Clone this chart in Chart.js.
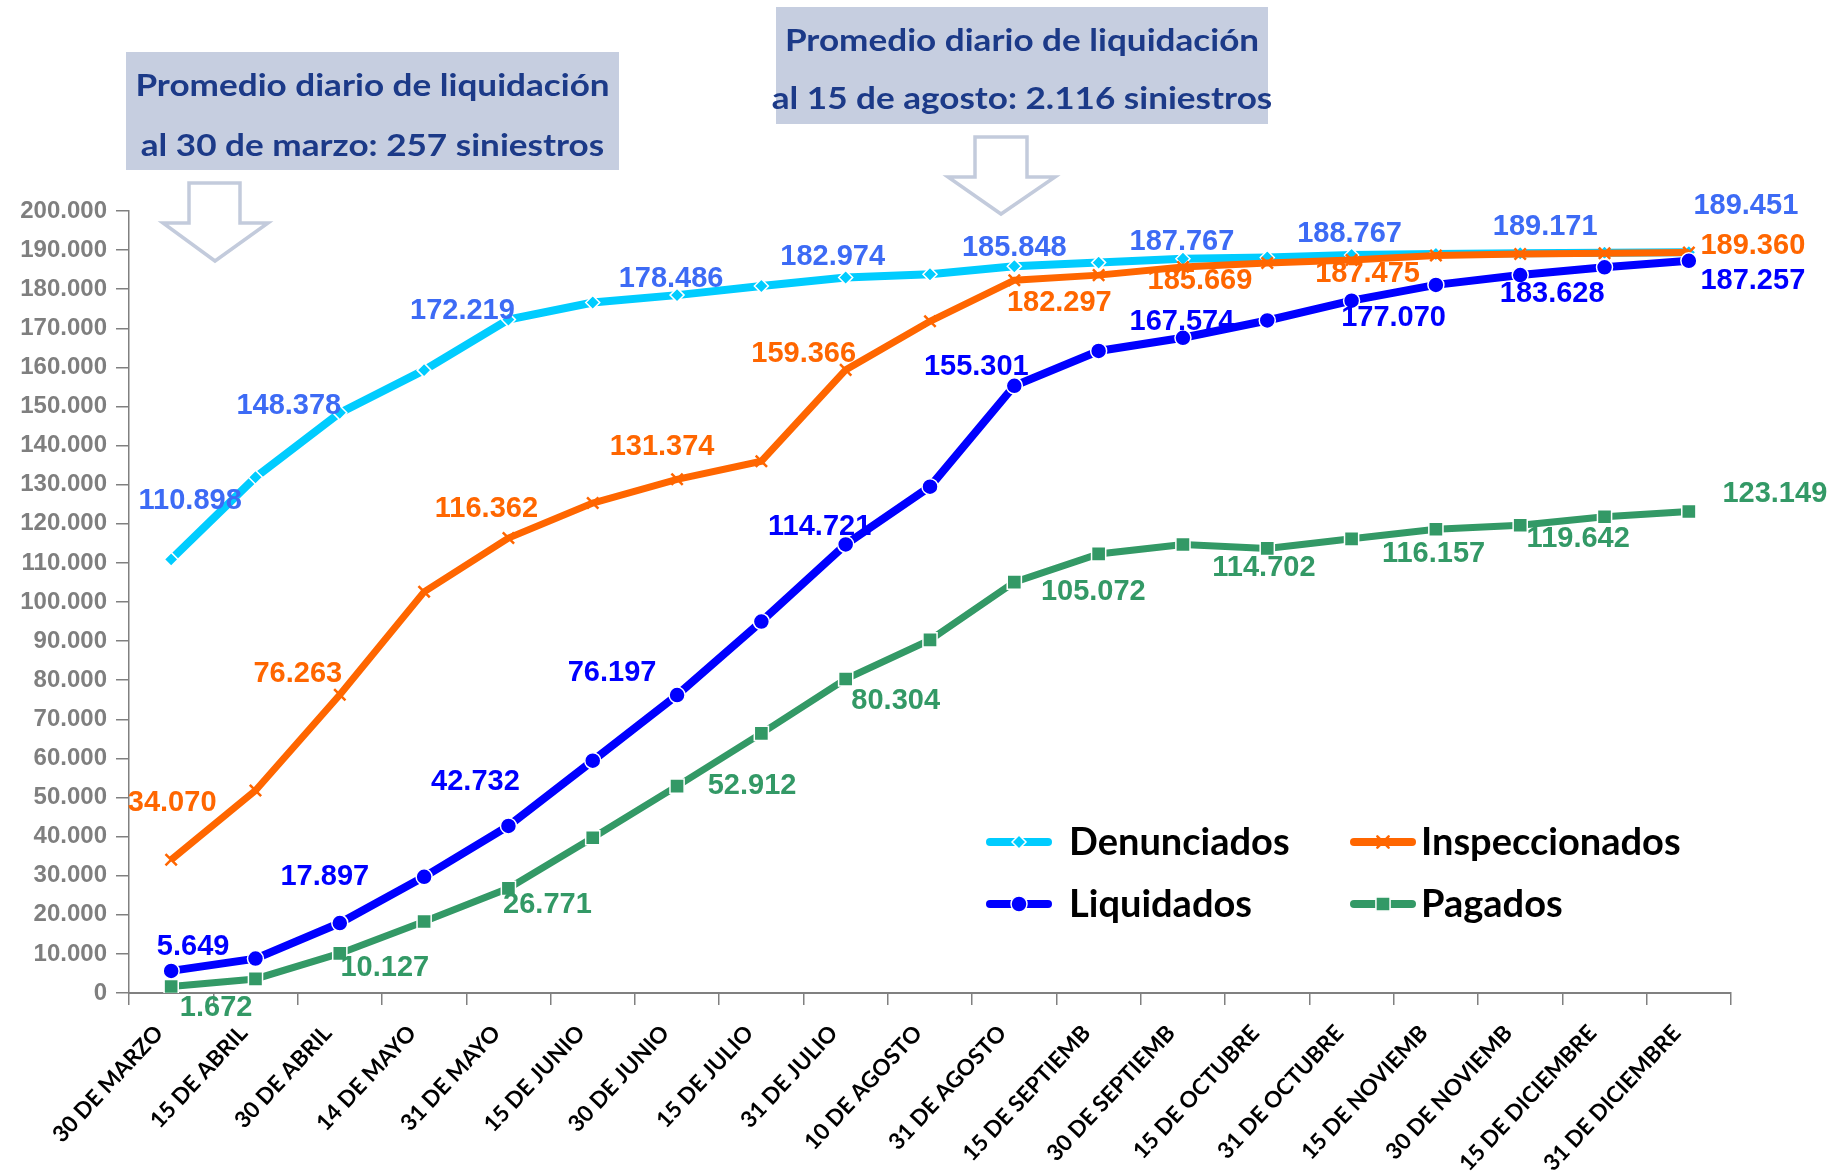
<!DOCTYPE html>
<html lang="es">
<head>
<meta charset="utf-8">
<title>Siniestros acumulados</title>
<script src="https://cdn.jsdelivr.net/npm/chart.js@4.4.1/dist/chart.umd.min.js"></script>
<style>
  html, body { margin: 0; padding: 0; background: #fff; }
  #wrap { width: 1838px; height: 1174px; position: relative; }
</style>
</head>
<body>
<div id="wrap"><canvas id="grafico" width="1838" height="1174"></canvas></div>
<script>
// datos (acumulados por fecha de corte)
const fechas = [
  "30 DE MARZO", "15 DE ABRIL", "30 DE ABRIL", "14 DE MAYO", "31 DE MAYO",
  "15 DE JUNIO", "30 DE JUNIO", "15 DE JULIO", "31 DE JULIO", "10 DE AGOSTO",
  "31 DE AGOSTO", "15 DE SEPTIEMB", "30 DE SEPTIEMB", "15 DE OCTUBRE",
  "31 DE OCTUBRE", "15 DE NOVIEMB", "30 DE NOVIEMB", "15 DE DICIEMBRE",
  "31 DE DICIEMBRE"
];
const denunciados = [110898, 131900, 148378, 159300, 172219, 176600, 178486, 180800, 182974,
  183800, 185848, 186800, 187767, 188100, 188767, 189000, 189171, 189300, 189451];
const inspeccionados = [34070, 51800, 76263, 102600, 116362, 125300, 131374, 136000, 159366,
  171800, 182297, 183600, 185669, 186700, 187475, 188600, 189000, 189200, 189360];
const liquidados = [5649, 8800, 17897, 29700, 42732, 59400, 76197, 95000, 114721,
  129500, 155301, 164200, 167574, 172000, 177070, 181100, 183628, 185600, 187257];
const pagados = [1672, 3600, 10127, 18300, 26771, 39700, 52912, 66400, 80304,
  90300, 105072, 112300, 114702, 113700, 116157, 118600, 119642, 121800, 123149];
const yTicks = { min: 0, max: 200000, step: 10000 };

const notas = [
  ["Promedio diario de liquidación", "al 30 de marzo: 257 siniestros"],
  ["Promedio diario de liquidación", "al 15 de agosto: 2.116 siniestros"]
];

// desplazamiento (px) de cada etiqueta respecto a su punto; null = sin etiqueta
const etiquetas = [
  [[19,-59],null,[-51,-8],null,[-46,-10],null,[-6,-17],null,[-13,-22],null,[0,-19],null,[-1,-18],null,[-2,-22],null,[25,-27],null,[57,-47]],
  [[1,-58],null,[-42,-22],null,[-22,-30],null,[-15,-33],null,[-42,-17],null,[45,22],null,[17,13],null,[16,13],null,null,null,[64,-8]],
  [[22,-25],null,[-15,-47],null,[-33,-45],null,[-65,-23],null,[-26,-18],null,[-38,-20],null,[-1,-17],null,[42,16],null,[32,18],null,[64,19]],
  [[45,21],null,[45,14],null,[39,16],null,[75,-1],null,[50,21],null,[79,9],null,[81,22],null,[82,14],null,[58,13],null,[86,-18]]
];
const coloresEtiqueta = ["#3D6BF5", "#FF6600", "#0000FF", "#339966"];

function miles(v) {
  return String(Math.round(v)).replace(/\B(?=(\d{3})+(?!\d))/g, ".");
}

const pluginEtiquetas = {
  id: "etiquetas",
  afterDatasetsDraw(chart) {
    const ctx = chart.ctx;
    ctx.save();
    ctx.font = "bold 29px 'Liberation Sans', Arial, sans-serif";
    ctx.textAlign = "center";
    ctx.textBaseline = "middle";
    chart.data.datasets.forEach((ds, d) => {
      const meta = chart.getDatasetMeta(d);
      meta.data.forEach((pt, i) => {
        const off = etiquetas[d][i];
        if (!off) return;
        ctx.fillStyle = coloresEtiqueta[d];
        ctx.fillText(miles(ds.data[i]), pt.x + off[0], pt.y + off[1] + 1);
      });
    });
    ctx.restore();
  }
};

function flecha(ctx, sx1, sx2, top, headY, hx1, hx2, tipX, tipY) {
  ctx.beginPath();
  ctx.moveTo(sx1, top);
  ctx.lineTo(sx2, top);
  ctx.lineTo(sx2, headY);
  ctx.lineTo(hx2, headY);
  ctx.lineTo(tipX, tipY);
  ctx.lineTo(hx1, headY);
  ctx.lineTo(sx1, headY);
  ctx.closePath();
  ctx.fillStyle = "#fff";
  ctx.fill();
  ctx.lineWidth = 3.5;
  ctx.strokeStyle = "#C3CBDC";
  ctx.stroke();
}

function cuadro(ctx, x, y, w, h, lineas, y1, y2) {
  ctx.fillStyle = "#C6CEE0";
  ctx.fillRect(x, y, w, h);
  ctx.fillStyle = "#1C3A88";
  ctx.font = "bold 30px Lato, 'Open Sans', sans-serif";
  ctx.textAlign = "center";
  ctx.textBaseline = "middle";
  [y1, y2].forEach((ty, k) => {
    ctx.save();
    ctx.translate(x + w / 2, ty);
    ctx.scale(1.17, 1);
    ctx.fillText(lineas[k], 0, 0);
    ctx.restore();
  });
}

const pluginAdornos = {
  id: "adornos",
  afterDraw(chart) {
    const ctx = chart.ctx;
    ctx.save();
    cuadro(ctx, 126, 52, 493, 118, notas[0], 86, 146);
    cuadro(ctx, 776, 7, 492, 117, notas[1], 41, 99);
    flecha(ctx, 189, 240, 183, 223, 163, 268, 215, 261);
    flecha(ctx, 975, 1027, 137, 177, 948, 1055, 1001, 214);

    // leyenda dentro del área del gráfico
    const items = [
      { ds: 0, lx: 986, tx: 1069, y: 842 },
      { ds: 1, lx: 1350, tx: 1421, y: 842 },
      { ds: 2, lx: 986, tx: 1069, y: 904 },
      { ds: 3, lx: 1350, tx: 1421, y: 904 }
    ];
    items.forEach(it => {
      const ds = chart.data.datasets[it.ds];
      ctx.strokeStyle = ds.borderColor;
      ctx.lineWidth = 8;
      ctx.lineCap = "round";
      ctx.beginPath();
      ctx.moveTo(it.lx + 4, it.y);
      ctx.lineTo(it.lx + 62, it.y);
      ctx.stroke();
      ctx.fillStyle = ds.pointBackgroundColor;
      ctx.strokeStyle = ds.pointBorderColor;
      ctx.lineWidth = ds.pointBorderWidth;
      Chart.helpers.drawPoint(ctx, {
        pointStyle: ds.pointStyle,
        radius: ds.pointRadius,
        borderWidth: ds.pointBorderWidth
      }, it.lx + 33, it.y);
      ctx.fillStyle = "#000";
      ctx.font = "bold 38px Lato, 'Open Sans', sans-serif";
      ctx.textAlign = "left";
      ctx.textBaseline = "middle";
      ctx.fillText(ds.label, it.tx, it.y + 1);
    });
    ctx.restore();
  }
};

const serie = (label, data, color, style, radius, borderColor, order, width) => ({
  label, data, order,
  borderColor: color,
  backgroundColor: color,
  borderWidth: width,
  pointStyle: style,
  pointRadius: radius,
  pointBackgroundColor: color,
  pointBorderColor: borderColor,
  pointBorderWidth: style === "crossRot" ? 2.5 : 1.5,
  tension: 0,
  fill: false
});

const datasets = [
  serie("Denunciados", denunciados, "#00CCFF", "rectRot", 7, "#ffffff", 3, 8),
  serie("Inspeccionados", inspeccionados, "#FF6600", "crossRot", 8, "#FF6600", 2, 7),
  serie("Liquidados", liquidados, "#0000FF", "circle", 8, "#ffffff", 1, 8),
  serie("Pagados", pagados, "#339966", "rect", 10, "#ffffff", 0, 7)
];

new Chart(document.getElementById("grafico"), {
  type: "line",
  data: { labels: fechas, datasets },
  options: {
    responsive: false,
    animation: false,
    layout: { padding: { left: 0, top: 211, right: 107, bottom: 0 } },
    plugins: { legend: { display: false }, tooltip: { enabled: false } },
    scales: {
      x: {
        offset: true,
        grid: { drawOnChartArea: false, drawTicks: true, tickLength: 12, offset: true, color: "#808080", lineWidth: 1.5 },
        border: { display: true, color: "#808080", width: 2 },
        ticks: {
          autoSkip: false, minRotation: 47, maxRotation: 47, padding: 15, labelOffset: -12,
          color: "#000",
          font: { family: "Lato, 'Open Sans', sans-serif", size: 22.5, weight: "bold" }
        },
        afterFit(s) { s.height = 181; }
      },
      y: {
        min: yTicks.min, max: yTicks.max,
        ticks: {
          stepSize: yTicks.step, padding: 9, color: "#7F7F7F",
          font: { family: "'Liberation Sans', Arial, sans-serif", size: 24, weight: "bold" },
          callback: v => miles(v)
        },
        grid: { drawOnChartArea: false, drawTicks: true, tickLength: 13, color: "#808080", lineWidth: 1.5 },
        border: { display: true, color: "#808080", width: 1.5 },
        afterFit(s) { s.width = 129; }
      }
    }
  },
  plugins: [pluginEtiquetas, pluginAdornos]
});
</script>
</body>
</html>
